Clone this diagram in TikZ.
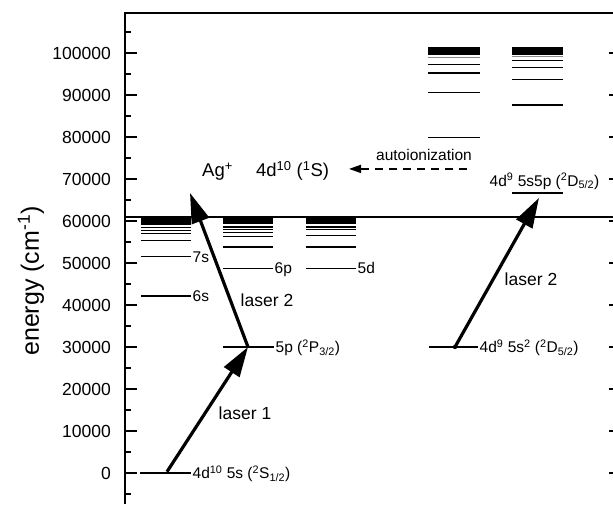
\documentclass[tikz,border=0pt]{standalone}
\usepackage{fontspec}
\setmainfont{Liberation Sans}
\usetikzlibrary{arrows.meta}
\definecolor{lvInk}{HTML}{000000}
\definecolor{lvGray}{HTML}{8A8A8A}

\begin{document}
\begin{tikzpicture}[
  x=1pt, y=4.2pt, line cap=butt, text=lvInk,
  lv axis/.style={draw=lvInk,line width=1.6pt},
  lv tick/.style={draw=lvInk,line width=1.4pt},
  lv level/.style={draw=lvInk,line width=1.5pt},
  lv faint/.style={draw=lvGray,line width=1.5pt},
  lv laser/.style={draw=lvInk,line width=3.2pt,-{Triangle[length=30pt,width=18pt]}},
  lv auto/.style={draw=lvInk,line width=1.6pt,dash pattern=on 8pt off 6pt,-{Triangle[length=12pt,width=8pt]}},
  lv label/.style={anchor=base west,inner sep=0pt,xshift=1.5pt,yshift=-5.5pt,font=\fontsize{15.5}{18}\selectfont},
  lv big/.style={inner sep=0pt,font=\fontsize{17.5}{20}\selectfont}
]
\useasboundingbox (0,-7.381) rectangle (613,112.619);
% Column edges (pt) and the ionization limit (1000 cm^-1).
\def\sL{141}\def\sR{191}
\def\pL{223}\def\pR{273}
\def\dL{306}\def\dR{356}
\def\aL{428}\def\aR{480}
\def\bL{512}\def\bR{563}
\def\eIon{61}

% Axes and ticks.
\draw[lv axis] (125,-7.4) -- (125,109.52) -- (613,109.52);
\foreach \e in {0,10,...,100} {
  \draw[lv tick] (125,\e) -- (137,\e);
  \draw[lv tick] (609,\e) -- (613,\e);
  \node[lv big,anchor=east] (tick\e) at (111,\e) {\ifnum\e=0 0\else\e000\fi};
}
\foreach \e in {-5,5,...,105}
  \draw[lv tick] (125,\e) -- (131,\e);
\node[rotate=90,inner sep=0pt,font=\fontsize{25}{28}\selectfont] (axisLab)
  at (31,45.7) {energy (cm\textsuperscript{-1})};

% Ionization limit.
\draw[lv level] (125,\eIon) -- (613,\eIon);

% Rydberg series converging to the limit.
\fill[lvInk] (\sL,59.05) rectangle (\sR,\eIon);
\foreach \e in {58.4,57.69,56.98,55.4,51.5,42.14}
  \draw[lv level] (\sL,\e) -- (\sR,\e);
\fill[lvInk] (\pL,59.2) rectangle (\pR,\eIon);
\foreach \e in {58.57,57.93,57.3,56.26,53.81,48.7}
  \draw[lv level] (\pL,\e) -- (\pR,\e);
\fill[lvInk] (\dL,59.2) rectangle (\dR,\eIon);
\foreach \e in {58.57,57.93,56.5,53.81,48.7}
  \draw[lv level] (\dL,\e) -- (\dR,\e);
\node[lv label] (lvSeven) at (\sR,51.5) {7s};
\node[lv label] (lvSix) at (\sR,42.14) {6s};
\node[lv label] (lvSixP) at (\pR,48.7) {6p};
\node[lv label] (lvFiveD) at (\dR,48.7) {5d};

% Inner-shell excited series above the limit.
\fill[lvInk] (\aL,99.52) rectangle (\aR,101.5);
\draw[lv faint] (\aL,98.98) -- (\aR,98.98);
\foreach \e in {97.31,95.24,90.55,79.93}
  \draw[lv level] (\aL,\e) -- (\aR,\e);
\fill[lvInk] (\bL,99.64) rectangle (\bR,101.5);
\draw[lv faint] (\bL,99.12) -- (\bR,99.12);
\foreach \e in {98.17,96.6,93.64,87.62,66.67}
  \draw[lv level] (\bL,\e) -- (\bR,\e);

% Low-lying levels.
\draw[lv level] (140,0) -- (\sR,0);
\draw[lv level] (\pL,30) -- (274,30);
\draw[lv level] (429,30) -- (478,30);
\node[lv label] (lvGround) at (\sR,0)
  {4d\textsuperscript{10} 5s (\textsuperscript{2}S\textsubscript{1/2})};
\node[lv label] (lvFiveP) at (274,30)
  {5p (\textsuperscript{2}P\textsubscript{3/2})};
\node[lv label] (lvCore) at (478,30)
  {4d\textsuperscript{9} 5s\textsuperscript{2} (\textsuperscript{2}D\textsubscript{5/2})};
\node[anchor=base,inner sep=0pt,font=\fontsize{15.5}{18}\selectfont] (lvAuto)
  at (544.5,68.33) {4d\textsuperscript{9} 5s5p (\textsuperscript{2}D\textsubscript{5/2})};

% Ion ground state and the decay into it.
\node[inner sep=0pt,anchor=base west,font=\fontsize{18.5}{21}\selectfont] (agIon)
  at (202,70.5)
  {Ag\textsuperscript{+}\hspace{1.25em}4d\textsuperscript{10} (\textsuperscript{1}S)};
\coordinate (autoStart) at (467,72.4);
\coordinate (autoEnd) at (349,72.4);
\draw[lv auto] (autoStart) -- (autoEnd);
\node[inner sep=0pt,font=\fontsize{15.5}{18}\selectfont] (autoLab)
  at (424,75.7) {autoionization};

% Laser steps.
\coordinate (gndStart) at (167,0.3);
\coordinate (pStep) at (248,30);
\coordinate (ionTip) at (190,66.67);
\coordinate (coreStart) at (455,30);
\coordinate (coreTip) at (539,65.5);
\draw[lv laser] (gndStart) -- (pStep);
\draw[lv laser] (pStep) -- (ionTip);
\draw[lv laser] (coreStart) -- (coreTip);
\fill[lvInk] (coreStart) circle[radius=2.2pt];
\node[lv big] (laserOne) at (245,14.3) {laser 1};
\node[lv big] (laserTwoL) at (267,41.2) {laser 2};
\node[lv big] (laserTwoR) at (531,46.2) {laser 2};
\end{tikzpicture}
\end{document}
